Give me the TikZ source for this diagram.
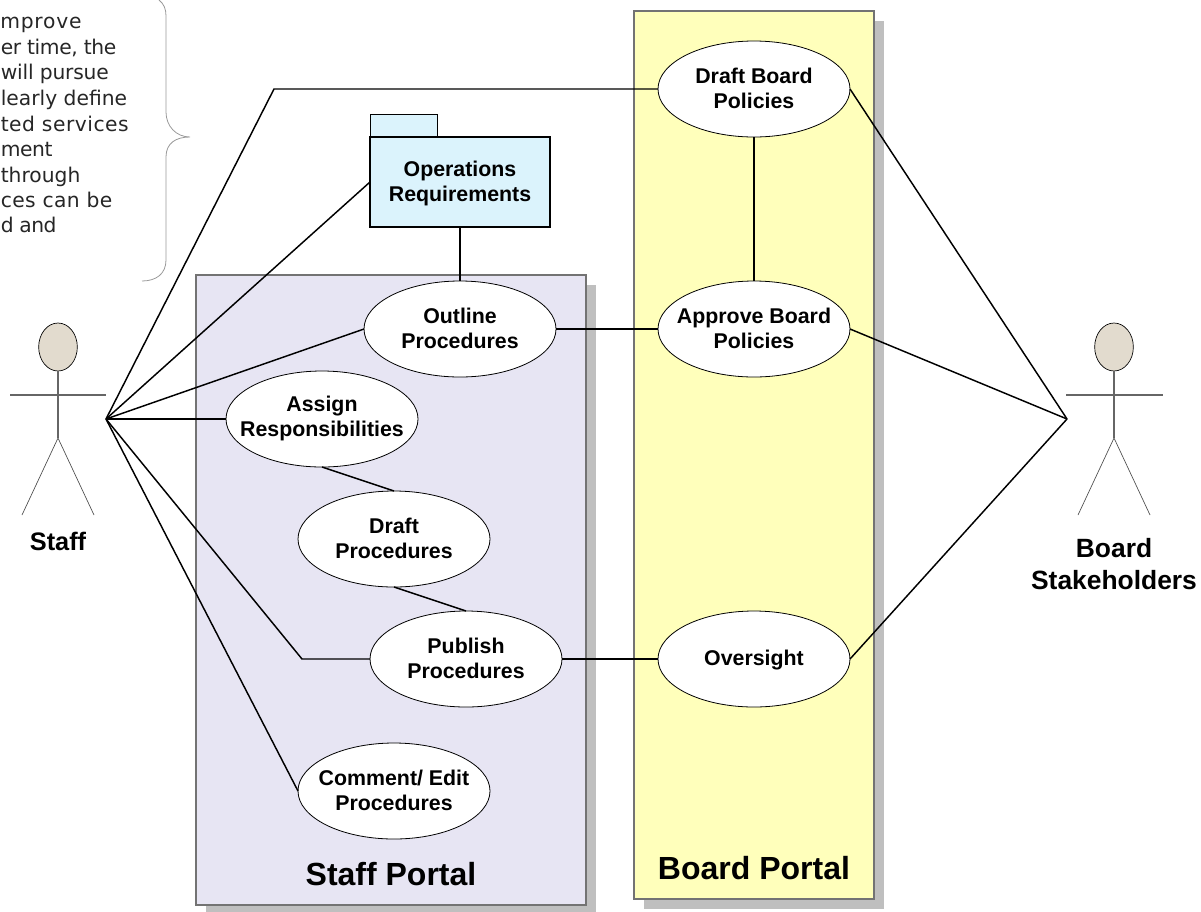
\documentclass[tikz,border=0pt]{standalone}
\usepackage{fontspec}
\setmainfont{Liberation Sans}
\newfontfamily\notefont{DejaVu Sans}
\usetikzlibrary{shapes.geometric}
\tikzset{
 usecase/.style={ellipse,draw=black,line width=0.6pt,fill=white,minimum width=144pt,minimum height=72pt,inner sep=0pt,outer sep=0pt,label={[align=center,inner sep=0pt,yshift=0.75pt,font=\fontsize{16}{18.75}\selectfont\bfseries]center:#1}},
 portal/.style={draw=black!55,line width=1pt},
 shade/.style={fill=black!25,draw=none},
 link/.style={draw=black,line width=1.1pt},
 limb/.style={draw=black!60,line width=0.8pt},
 thinlimb/.style={draw=black!70,line width=0.5pt},
 head/.style={ellipse,draw=black,line width=0.5pt,fill=headc,minimum width=29pt,minimum height=36pt,inner sep=0pt,outer sep=0pt},
 actorlabel/.style={align=center,font=\fontsize{19.8}{24}\selectfont\bfseries},
 portallabel/.style={font=\fontsize{24}{28}\selectfont\bfseries},
 noteline/.style={anchor=base west,inner sep=0pt,text=black!85,font=\notefont\fontsize{15.2}{18}\selectfont},
 bracec/.style={draw=black!40,line width=0.6pt}
}
\definecolor{headc}{RGB}{226,219,206}
\definecolor{staffc}{RGB}{231,229,243}
\definecolor{boardc}{RGB}{255,255,187}
\definecolor{pkgc}{RGB}{219,243,252}
\begin{document}
\begin{tikzpicture}[x=0.75pt,y=-0.75pt]
\useasboundingbox (0,0) rectangle (1201,911);
% portals
\fill[shade] (206,285) rectangle (596,912);
\draw[portal,fill=staffc] (196,275) rectangle (586,905);
\fill[shade] (644,21) rectangle (884,909);
\draw[portal,fill=boardc] (634,11) rectangle (874,899);
% note
\node[noteline] (n1) at (0,28) {\addfontfeature{LetterSpace=4}mprove};
\node[noteline] (n2) at (0.5,54) {\addfontfeature{LetterSpace=-2}er time, the};
\node[noteline] (n3) at (0.5,79) {\addfontfeature{LetterSpace=-1}will pursue};
\node[noteline] (n4) at (0.5,105) {learly define};
\node[noteline] (n5) at (0.5,131) {\addfontfeature{LetterSpace=2.5}ted services};
\node[noteline] (n6) at (0.5,156) {\addfontfeature{LetterSpace=-2}ment};
\node[noteline] (n7) at (0.5,182) {through};
\node[noteline] (n8) at (0.5,207) {\addfontfeature{LetterSpace=2}ces can be};
\node[noteline] (n9) at (0.5,232) {\addfontfeature{LetterSpace=-3}d and};
\draw[bracec] (159,0) .. controls (164,4) and (166,9) .. (166,16) -- (166,112) .. controls (166,126) and (176,137) .. (190,137)
  .. controls (176,137) and (166,143) .. (166,157) -- (166,260) .. controls (166,274) and (156,281) .. (142,281);
% package
\draw[draw=black,line width=0.5pt,fill=pkgc] (370,114) rectangle (437,137);
\node[draw=black,line width=1.2pt,fill=pkgc,minimum width=135pt,minimum height=67.5pt,inner sep=0pt,outer sep=0pt,anchor=north west,label={[align=center,inner sep=0pt,yshift=-0.75pt,font=\fontsize{16}{18.75}\selectfont\bfseries]center:Operations\\Requirements}] (pkg) at (370,137) {};
% use cases
\node[usecase={Draft Board\\Policies}] (dbp) at (754,89) {};
\node[usecase={Approve Board\\Policies}] (abp) at (754,329) {};
\node[usecase={\rule{0pt}{14.5pt}Oversight}] (ovs) at (754,659) {};
\node[usecase={Outline\\Procedures}] (opr) at (460,329) {};
\node[usecase={Assign\\Responsibilities}] (asg) at (322,419) {};
\node[usecase={Draft\\Procedures}] (dpr) at (394,539) {};
\node[usecase={Publish\\Procedures}] (ppr) at (466,659) {};
\node[usecase={Comment/ Edit\\Procedures}] (cep) at (394,791) {};
% staff actor
\coordinate (shub) at (106,419);
\coordinate (ship) at (58,438);
\coordinate (sarml) at (10,395);
\coordinate (sarmr) at (106,395);
\coordinate (slegl) at (22,515);
\coordinate (slegr) at (94,515);
\node[head] (shead) at (58,347) {};
\draw[limb] (shead.south) -- (ship);
\draw[limb] (sarml) -- (sarmr);
\draw[thinlimb] (slegl) -- (ship) -- (slegr);
\node[actorlabel,font=\fontsize{19}{24}\selectfont\bfseries] (slabel) at (58,541) {Staff};
% board actor
\coordinate (bhub) at (1067,419);
\coordinate (bhip) at (1114,438);
\coordinate (barml) at (1066,395);
\coordinate (barmr) at (1163,395);
\coordinate (blegl) at (1078,515);
\coordinate (blegr) at (1150,515);
\node[head] (bhead) at (1114,347) {};
\draw[limb] (bhead.south) -- (bhip);
\draw[limb] (barml) -- (barmr);
\draw[thinlimb] (blegl) -- (bhip) -- (blegr);
\node[actorlabel] (blabel) at (1114,564) {Board\\Stakeholders};
% connectors
\coordinate (b1) at (274,89);
\coordinate (b2) at (302,659);
\draw[link] (shub) -- (b1) -- (dbp.west);
\draw[link] (shub) -- (pkg.west);
\draw[link] (shub) -- (opr.west);
\draw[link] (shub) -- (asg.west);
\draw[link] (shub) -- (b2) -- (ppr.west);
\draw[link] (shub) -- (cep.west);
\draw[link] (pkg.south) -- (opr.north);
\draw[link] (dbp.south) -- (abp.north);
\draw[link] (opr.east) -- (abp.west);
\draw[link] (ppr.east) -- (ovs.west);
\draw[link] (asg.south) -- (dpr.north);
\draw[link] (dpr.south) -- (ppr.north);
\draw[link] (bhub) -- (dbp.east);
\draw[link] (bhub) -- (abp.east);
\draw[link] (bhub) -- (ovs.east);
% portal titles
\node[portallabel] (stitle) at (391,874) {Staff Portal};
\node[portallabel] (btitle) at (754,868) {Board Portal};
\end{tikzpicture}
\end{document}
